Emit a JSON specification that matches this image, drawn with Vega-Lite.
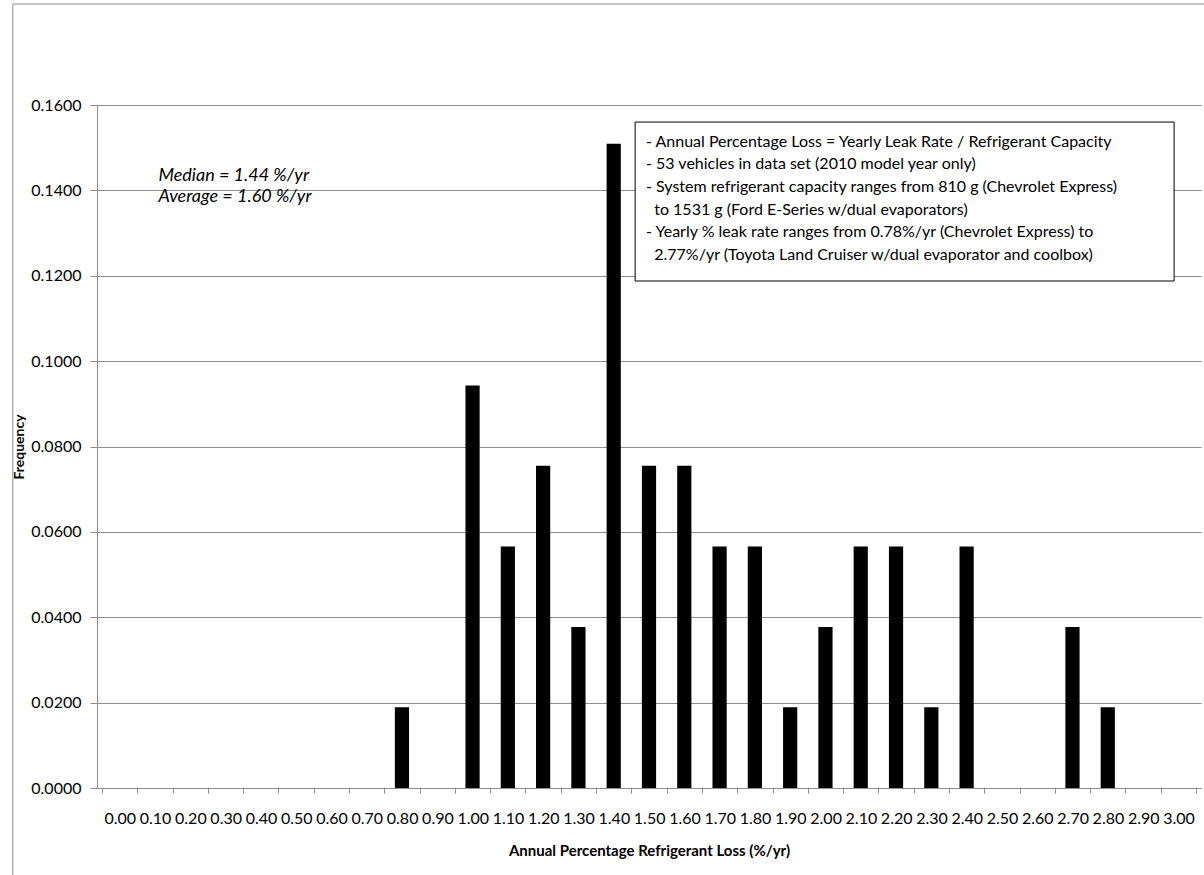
{
  "$schema": "https://vega.github.io/schema/vega-lite/v6.json",
  "width": 1104,
  "height": 683,
  "autosize": "none",
  "padding": {"left": 97, "top": 105, "right": 3, "bottom": 87},
  "background": "white",
  "config": {"view": {"stroke": null}, "font": "Lato"},
  "resolve": {"axis": {"x": "independent", "y": "independent"}},
  "data": {
    "values": [
      {"bin": 0.8, "freq": 0.0189},
      {"bin": 1.0, "freq": 0.0943},
      {"bin": 1.1, "freq": 0.0566},
      {"bin": 1.2, "freq": 0.0755},
      {"bin": 1.3, "freq": 0.0377},
      {"bin": 1.4, "freq": 0.1509},
      {"bin": 1.5, "freq": 0.0755},
      {"bin": 1.6, "freq": 0.0755},
      {"bin": 1.7, "freq": 0.0566},
      {"bin": 1.8, "freq": 0.0566},
      {"bin": 1.9, "freq": 0.0189},
      {"bin": 2.0, "freq": 0.0377},
      {"bin": 2.1, "freq": 0.0566},
      {"bin": 2.2, "freq": 0.0566},
      {"bin": 2.3, "freq": 0.0189},
      {"bin": 2.4, "freq": 0.0566},
      {"bin": 2.7, "freq": 0.0377},
      {"bin": 2.8, "freq": 0.0189}
    ]
  },
  "layer": [
    {
      "mark": {"type": "bar", "color": "black", "width": 14.2},
      "encoding": {
        "x": {
          "field": "bin",
          "type": "quantitative",
          "scale": {"domain": [-0.05, 3.05], "nice": false, "zero": false},
          "axis": {
            "values": [-0.05, 0.05, 0.15, 0.25, 0.35, 0.45, 0.55, 0.65, 0.75, 0.85, 0.95, 1.05, 1.15, 1.25, 1.35, 1.45, 1.55, 1.65, 1.75, 1.85, 1.95, 2.05, 2.15, 2.25, 2.35, 2.45, 2.55, 2.65, 2.75, 2.85, 2.95, 3.05],
            "labelExpr": "datum.value > 3 ? '' : format(datum.value + 0.05, '.2f')",
            "labelOffset": 17.8,
            "labelFlush": false,
            "labelOverlap": false,
            "labelFontSize": 16,
            "labelColor": "black",
            "labelPadding": 17,
            "labelBaseline": "top",
            "tickSize": 5,
            "tickColor": "#8c8c8c",
            "domainColor": "#8c8c8c",
            "grid": false,
            "title": "Annual Percentage Refrigerant Loss (%/yr)",
            "titleFontSize": 15,
            "titleFontWeight": "bold",
            "titleColor": "black",
            "titlePadding": 17
          }
        },
        "y": {
          "field": "freq",
          "type": "quantitative",
          "scale": {"domain": [0, 0.16], "nice": false},
          "axis": {
            "values": [0, 0.02, 0.04, 0.06, 0.08, 0.1, 0.12, 0.14, 0.16],
            "format": ".4f",
            "labelFontSize": 16,
            "labelColor": "black",
            "labelPadding": 9,
            "tickSize": 7,
            "tickColor": "#8c8c8c",
            "domainColor": "#8c8c8c",
            "grid": true,
            "gridColor": "#8c8c8c",
            "title": "Frequency",
            "titleFontSize": 14,
            "titleFontWeight": "bold",
            "titleColor": "black",
            "titlePadding": 4
          }
        }
      }
    },
    {
      "data": {"values": [{}]},
      "mark": {"type": "rect", "fill": null, "stroke": "#8c8c8c", "strokeWidth": 1, "clip": false},
      "encoding": {
        "x": {"datum": -0.3027, "type": "quantitative", "axis": null},
        "x2": {"datum": 3.4},
        "y": {"datum": 0.18366, "type": "quantitative", "axis": null},
        "y2": {"datum": -0.05}
      }
    },
    {
      "data": {"values": [{}]},
      "mark": {"type": "rect", "fill": "white", "stroke": "black", "strokeWidth": 1},
      "encoding": {
        "x": {"datum": 1.4607, "type": "quantitative", "axis": null},
        "x2": {"datum": 2.988},
        "y": {"datum": 0.156, "type": "quantitative", "axis": null},
        "y2": {"datum": 0.11877}
      }
    },
    {
      "data": {"values": [{}]},
      "mark": {"type": "text", "align": "left", "baseline": "top", "fontSize": 16, "lineHeight": 22.7, "color": "black",
        "text": [
          "- Annual Percentage Loss = Yearly Leak Rate / Refrigerant Capacity",
          "- 53 vehicles in data set (2010 model year only)",
          "- System refrigerant capacity ranges from 810 g (Chevrolet Express)",
          "\u200b\u00a0\u00a0to 1531 g (Ford E-Series w/dual evaporators)",
          "- Yearly % leak rate ranges from 0.78%/yr (Chevrolet Express) to",
          "\u200b\u00a0\u00a02.77%/yr (Toyota Land Cruiser w/dual evaporator and coolbox)"
        ]
      },
      "encoding": {
        "x": {"datum": 1.4916, "type": "quantitative", "axis": null},
        "y": {"datum": 0.1533, "type": "quantitative", "axis": null}
      }
    },
    {
      "data": {"values": [{}]},
      "mark": {"type": "text", "align": "left", "baseline": "middle", "fontSize": 18, "fontStyle": "italic", "lineHeight": 21, "color": "black",
        "text": ["Median = 1.44 %/yr", "Average = 1.60 %/yr"]
      },
      "encoding": {
        "x": {"datum": 0.11, "type": "quantitative", "axis": null},
        "y": {"datum": 0.1434, "type": "quantitative", "axis": null}
      }
    }
  ]
}
